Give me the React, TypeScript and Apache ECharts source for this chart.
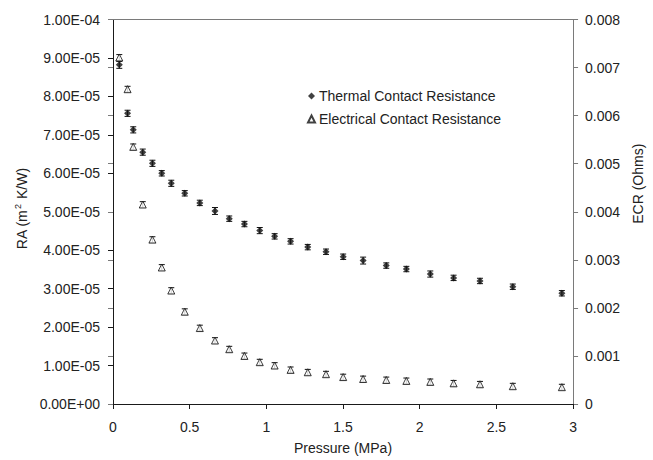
import React, { useEffect, useRef } from "react";
import * as echarts from "echarts";

// Pressure (MPa)
const pressure = [0.041, 0.095, 0.132, 0.194, 0.257, 0.318, 0.38, 0.468, 0.566, 0.665, 0.758, 0.857, 0.957, 1.054, 1.158, 1.27, 1.389, 1.501, 1.631, 1.782, 1.913, 2.069, 2.221, 2.393, 2.607, 2.927];
// Thermal contact resistance RA (m^2 K/W)
const thermal = [8.82e-5, 7.56e-5, 7.13e-5, 6.55e-5, 6.26e-5, 6.0e-5, 5.74e-5, 5.48e-5, 5.23e-5, 5.02e-5, 4.82e-5, 4.68e-5, 4.51e-5, 4.36e-5, 4.23e-5, 4.08e-5, 3.96e-5, 3.83e-5, 3.73e-5, 3.6e-5, 3.51e-5, 3.38e-5, 3.28e-5, 3.2e-5, 3.05e-5, 2.88e-5];
const thermalErr = [0.09e-5, 0.08e-5, 0.08e-5, 0.08e-5, 0.08e-5, 0.07e-5, 0.08e-5, 0.07e-5, 0.07e-5, 0.09e-5, 0.07e-5, 0.07e-5, 0.08e-5, 0.07e-5, 0.07e-5, 0.07e-5, 0.07e-5, 0.07e-5, 0.09e-5, 0.07e-5, 0.07e-5, 0.08e-5, 0.07e-5, 0.07e-5, 0.07e-5, 0.07e-5];
// Electrical contact resistance ECR (Ohms)
const ecr = [7.21e-3, 6.55e-3, 5.35e-3, 4.15e-3, 3.42e-3, 2.84e-3, 2.36e-3, 1.92e-3, 1.58e-3, 1.32e-3, 1.14e-3, 1.0e-3, 0.87e-3, 0.8e-3, 0.71e-3, 0.66e-3, 0.62e-3, 0.56e-3, 0.52e-3, 0.5e-3, 0.48e-3, 0.46e-3, 0.43e-3, 0.41e-3, 0.37e-3, 0.35e-3];
const ecrErr = [0.06e-3, 0.06e-3, 0.06e-3, 0.06e-3, 0.06e-3, 0.06e-3, 0.06e-3, 0.06e-3, 0.06e-3, 0.06e-3, 0.06e-3, 0.06e-3, 0.06e-3, 0.06e-3, 0.06e-3, 0.06e-3, 0.06e-3, 0.06e-3, 0.06e-3, 0.06e-3, 0.06e-3, 0.06e-3, 0.06e-3, 0.06e-3, 0.06e-3, 0.06e-3];

const seriesNames = ["Thermal Contact Resistance", "Electrical Contact Resistance"];

const FONT = "Liberation Sans, Arial, sans-serif";
const TXT = "#222";
const DARK = "#1a1a1a";
const GRAY = "#7a7a7a";

function sci(v: number): string {
  if (v === 0) return "0.00E+00";
  const exp = Math.floor(Math.log10(Math.abs(v)) + 1e-9);
  const mant = v / Math.pow(10, exp);
  const sign = exp < 0 ? "-" : "+";
  const e = Math.abs(exp);
  return mant.toFixed(2) + "E" + sign + (e < 10 ? "0" + e : String(e));
}

function errRender(params: any, api: any) {
  const x = api.value(0);
  const y = api.value(1);
  const e = api.value(2);
  const top = api.coord([x, y + e]);
  const bot = api.coord([x, y - e]);
  const w = 3;
  const st = { stroke: "#111", lineWidth: 1 };
  return {
    type: "group",
    children: [
      { type: "line", shape: { x1: top[0], y1: top[1], x2: bot[0], y2: bot[1] }, style: st },
      { type: "line", shape: { x1: top[0] - w, y1: top[1], x2: top[0] + w, y2: top[1] }, style: st },
      { type: "line", shape: { x1: bot[0] - w, y1: bot[1], x2: bot[0] + w, y2: bot[1] }, style: st },
    ],
  };
}

export default function App() {
  const ref = useRef<HTMLDivElement>(null);
  useEffect(() => {
    if (!ref.current) return;
    const chart = echarts.init(ref.current, null, { renderer: "svg" });
    const thermalData = pressure.map((p, i) => [p, thermal[i]]);
    const thermalErrData = pressure.map((p, i) => [p, thermal[i], thermalErr[i]]);
    const ecrData = pressure.map((p, i) => [p, ecr[i]]);
    const ecrErrData = pressure.map((p, i) => [p, ecr[i], ecrErr[i]]);
    chart.setOption({
      animation: false,
      backgroundColor: "#fff",
      textStyle: { fontFamily: FONT },
      grid: { left: 113, right: 76.5, top: 19.5, bottom: 56, containLabel: false },
      legend: {
        data: seriesNames,
        orient: "vertical",
        left: 302,
        top: 84,
        itemWidth: 7,
        itemHeight: 7,
        itemGap: 9,
        textStyle: { fontFamily: FONT, fontSize: 14, color: TXT, padding: [0, 0, 0, -1] },
      },
      xAxis: [
        {
          type: "value",
          min: 0,
          max: 3,
          interval: 0.5,
          position: "bottom",
          name: "Pressure (MPa)",
          nameLocation: "middle",
          nameGap: 37,
          nameTextStyle: { fontFamily: FONT, fontSize: 14, color: TXT },
          axisLine: { show: true, onZero: false, lineStyle: { color: DARK, width: 1 } },
          axisTick: { show: true, inside: false, length: 5, lineStyle: { color: DARK } },
          axisLabel: { fontFamily: FONT, fontSize: 14, color: TXT, margin: 16 },
          splitLine: { show: false },
        },
        {
          type: "value",
          min: 0,
          max: 3,
          position: "top",
          axisLine: { show: true, onZero: false, lineStyle: { color: GRAY, width: 1 } },
          axisTick: { show: false },
          axisLabel: { show: false },
          splitLine: { show: false },
        },
      ],
      yAxis: [
        {
          type: "value",
          min: 0,
          max: 1e-4,
          interval: 1e-5,
          position: "left",
          name: "RA (m{sup|2} K/W)",
          nameLocation: "middle",
          nameGap: 78,
          nameTextStyle: {
            fontFamily: FONT,
            fontSize: 14,
            color: TXT,
            padding: [0, 0, 0, 6],
            rich: {
              sup: { fontFamily: FONT, fontSize: 9, color: TXT, verticalAlign: "top", padding: [0, 1, 8, 1] },
            },
          },
          axisLine: { show: true, onZero: false, lineStyle: { color: DARK, width: 1 } },
          axisTick: { show: true, inside: false, length: 5, lineStyle: { color: DARK } },
          axisLabel: { fontFamily: FONT, fontSize: 14, color: TXT, margin: 13, formatter: (v: number) => sci(v) },
          splitLine: { show: false },
        },
        {
          type: "value",
          min: 0,
          max: 0.008,
          interval: 0.001,
          position: "right",
          name: "ECR (Ohms)",
          nameLocation: "middle",
          nameGap: 56,
          nameTextStyle: { fontFamily: FONT, fontSize: 14, color: TXT, padding: [0, 0, 0, 56] },
          axisLine: { show: true, onZero: false, lineStyle: { color: GRAY, width: 1 } },
          axisTick: { show: true, inside: false, length: 5, lineStyle: { color: GRAY } },
          axisLabel: {
            fontFamily: FONT,
            fontSize: 14,
            color: TXT,
            margin: 12,
            formatter: (v: number) => (v === 0 ? "0" : v.toFixed(3)),
          },
          splitLine: { show: false },
        },
        {
          type: "value",
          min: 0,
          max: 0.008,
          interval: 0.001,
          position: "right",
          axisLine: { show: false },
          axisTick: { show: true, inside: true, length: 5, lineStyle: { color: GRAY } },
          axisLabel: { show: false },
          splitLine: { show: false },
        },
      ],
      series: [
        {
          type: "custom",
          xAxisIndex: 0,
          yAxisIndex: 0,
          renderItem: errRender,
          encode: { x: 0, y: 1 },
          data: thermalErrData,
          silent: true,
          z: 2,
        },
        {
          type: "custom",
          xAxisIndex: 0,
          yAxisIndex: 1,
          renderItem: errRender,
          encode: { x: 0, y: 1 },
          data: ecrErrData,
          silent: true,
          z: 2,
        },
        {
          name: seriesNames[0],
          type: "scatter",
          xAxisIndex: 0,
          yAxisIndex: 0,
          symbol: "diamond",
          symbolSize: 7,
          itemStyle: { color: "#111" },
          data: thermalData,
          z: 3,
        },
        {
          name: seriesNames[1],
          type: "scatter",
          xAxisIndex: 0,
          yAxisIndex: 1,
          symbol: "triangle",
          symbolSize: 7,
          itemStyle: { color: "#fff", borderColor: "#111", borderWidth: 1 },
          data: ecrData,
          z: 3,
        },
      ],
    });
    return () => chart.dispose();
  }, []);
  return (
    <div
      ref={ref}
      style={{ position: "fixed", left: 0, top: 0, width: 653, height: 460, background: "#fff" }}
    />
  );
}
